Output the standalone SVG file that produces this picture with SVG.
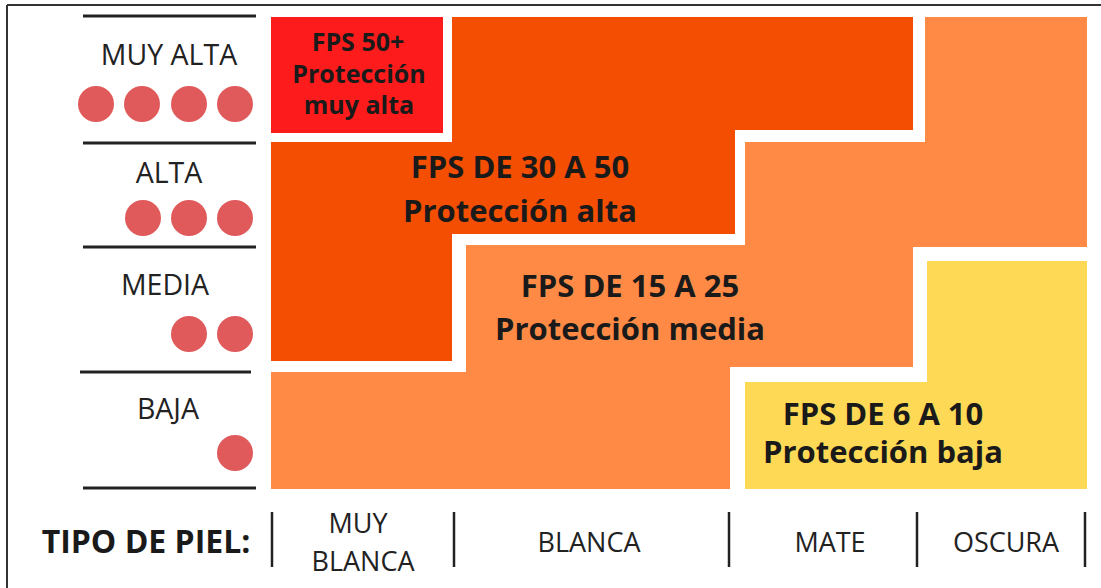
<svg xmlns="http://www.w3.org/2000/svg" width="1101" height="588" viewBox="0 0 1101 588">
<style>
.lbl{font-family:"Open Sans","Liberation Sans",sans-serif;font-size:28.5px;fill:#222;text-anchor:middle}
.ax{font-family:"Open Sans","Liberation Sans",sans-serif;font-size:27px;fill:#222;text-anchor:middle}
.big{font-family:"Open Sans","Liberation Sans",sans-serif;font-weight:bold;font-size:31px;fill:#1a1a1a;text-anchor:middle}
.sm{font-family:"Open Sans","Liberation Sans",sans-serif;font-weight:bold;font-size:25px;fill:#1a1a1a;text-anchor:middle}
.rule{stroke:#222;stroke-width:3}
.sep{stroke:#222;stroke-width:2.5}
.dot{fill:#E05A5C}
</style>
<rect x="0" y="0" width="1101" height="588" fill="#fff"/>
<g id="frame">
<line x1="7" y1="5" x2="1101" y2="5" stroke="#333" stroke-width="2"/>
<line x1="7" y1="5" x2="7" y2="588" stroke="#333" stroke-width="2"/>
</g>
<g id="rules">
<line class="rule" x1="83" y1="16" x2="256" y2="16"/>
<line class="rule" x1="83" y1="143" x2="256" y2="143"/>
<line class="rule" x1="83" y1="247" x2="256" y2="247"/>
<line class="rule" x1="80" y1="372" x2="251" y2="372"/>
<line class="rule" x1="83" y1="488" x2="256" y2="488"/>
</g>
<g id="level-muy-alta">
<text class="lbl" x="169" y="65">MUY ALTA</text>
<circle class="dot" cx="96" cy="104" r="18"/>
<circle class="dot" cx="142" cy="104" r="18"/>
<circle class="dot" cx="189" cy="104" r="18"/>
<circle class="dot" cx="235" cy="104" r="18"/>
</g>
<g id="level-alta">
<text class="lbl" x="169" y="183">ALTA</text>
<circle class="dot" cx="143" cy="218" r="18"/>
<circle class="dot" cx="189" cy="218" r="18"/>
<circle class="dot" cx="235" cy="218" r="18"/>
</g>
<g id="level-media">
<text class="lbl" x="165" y="295">MEDIA</text>
<circle class="dot" cx="189" cy="334" r="18"/>
<circle class="dot" cx="235" cy="334" r="18"/>
</g>
<g id="level-baja">
<text class="lbl" x="168" y="419">BAJA</text>
<circle class="dot" cx="235" cy="453" r="18"/>
</g>
<g id="zone-muy-alta">
<rect x="271" y="17" width="172" height="116" fill="#FE1B1B"/>
<text class="sm" x="358" y="51">FPS 50+</text>
<text class="sm" x="359" y="83">Protección</text>
<text class="sm" x="359" y="114">muy alta</text>
</g>
<g id="zone-alta">
<polygon points="452,17 913,17 913,130 735,130 735,234 452,234 452,361 271,361 271,142 452,142" fill="#F34E02"/>
<text class="big" x="520" y="178">FPS DE 30 A 50</text>
<text class="big" x="520" y="222">Protección alta</text>
</g>
<g id="zone-media">
<polygon points="925,17 1087,17 1087,247 913,247 913,367 730,367 730,489 271,489 271,372 466,372 466,245 745,245 745,142 925,142" fill="#FE8A45"/>
<text class="big" x="630" y="297">FPS DE 15 A 25</text>
<text class="big" x="630" y="340">Protección media</text>
</g>
<g id="zone-baja">
<polygon points="927,261 1087,261 1087,489 745,489 745,382 927,382" fill="#FDD955"/>
<text class="big" x="883" y="425">FPS DE 6 A 10</text>
<text class="big" x="883" y="463">Protección baja</text>
</g>
<g id="axis">
<text x="146" y="553" font-family="'Open Sans','Liberation Sans',sans-serif" font-weight="bold" font-size="32" fill="#1a1a1a" text-anchor="middle">TIPO DE PIEL:</text>
<line class="sep" x1="272" y1="512" x2="272" y2="567"/>
<line class="sep" x1="454" y1="512" x2="454" y2="567"/>
<line class="sep" x1="729" y1="512" x2="729" y2="567"/>
<line class="sep" x1="917" y1="512" x2="917" y2="567"/>
<line class="sep" x1="1085" y1="512" x2="1085" y2="567"/>
<text class="ax" x="358" y="533">MUY</text>
<text class="ax" x="363" y="571">BLANCA</text>
<text class="ax" x="589" y="552">BLANCA</text>
<text class="ax" x="830" y="552">MATE</text>
<text class="ax" x="1006" y="552">OSCURA</text>
</g>
</svg>
